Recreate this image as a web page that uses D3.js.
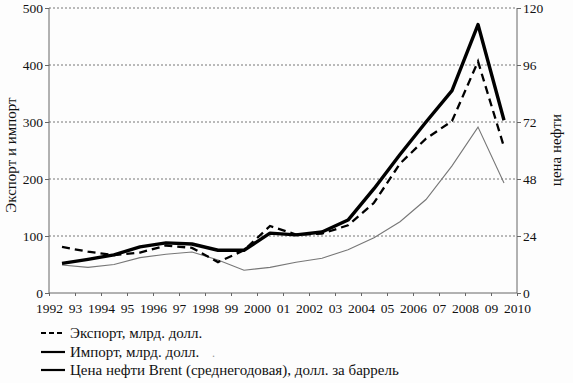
<!DOCTYPE html>
<html><head><meta charset="utf-8">
<script src="https://cdn.jsdelivr.net/npm/d3@7"></script>
<style>
html,body{margin:0;padding:0;background:#fdfdfd;}
svg{display:block;}
</style></head>
<body>
<svg id="c" width="573" height="383"></svg>
<script>
const years = [1992,1993,1994,1995,1996,1997,1998,1999,2000,2001,2002,2003,2004,2005,2006,2007,2008,2009];
// thick solid line (left axis, bn $)
const thickSeries = [52,59,67,81,88,86,75,75,105,102,107,128,183,243,300,355,471,303];
// thin grey line (left axis, bn $)
const thinSeries = [49,45,50,62,68,72,58,40,45,54,61,76,97,125,164,223,291,193];
// dashed line (right axis, $ per barrel)
const dashedSeries = [19.4,17.4,16.0,17.0,20.0,19.0,13.0,18.0,28.2,24.6,25.0,28.5,38.0,54.5,65.0,72.4,97.5,61.5];
const leftTicks = [0,100,200,300,400,500];
const rightTicks = [0,24,48,72,96,120];
const xTickYears = d3.range(1992,2011);
const xTickLabels = ["1992","93","1994","95","1996","97","1998","99","2000","01","2002","03","2004","05","2006","07","2008","09","2010"];
const leftTitle = "Экспорт и импорт";
const rightTitle = "цена нефти";
const legendLabels = ["Экспорт, млрд. долл.","Импорт, млрд. долл.","Цена нефти Brent (среднегодовая), долл. за баррель"];

const FONT = "'Liberation Serif'";
const svg = d3.select("#c");
const x = d3.scaleLinear().domain([1992,2010]).range([49,517]);
const yL = d3.scaleLinear().domain([0,500]).range([293,8]);
const yR = d3.scaleLinear().domain([0,120]).range([293,8]);
const axisCol = "#666";

// gridlines
svg.append("g").selectAll("line").data(leftTicks.filter(d=>d>0)).join("line")
  .attr("x1",49).attr("x2",517).attr("y1",d=>yL(d)).attr("y2",d=>yL(d))
  .attr("stroke","#777").attr("stroke-width",1).attr("stroke-dasharray","2,2");

// axes
const gL = svg.append("g").attr("transform","translate(49,0)")
  .call(d3.axisLeft(yL).tickValues(leftTicks).tickSize(4).tickPadding(2));
const gR = svg.append("g").attr("transform","translate(517,0)")
  .call(d3.axisRight(yR).tickValues(rightTicks).tickSize(4).tickPadding(2));
const gX = svg.append("g").attr("transform","translate(0,293)")
  .call(d3.axisBottom(x).tickValues(xTickYears).tickFormat((d,i)=>xTickLabels[i]).tickSize(3).tickPadding(7));
[gL,gR,gX].forEach(g=>{
  g.attr("font-family",null).attr("font-size",null);
  g.selectAll("path,line").attr("stroke",axisCol).attr("stroke-width",1);
  g.selectAll("text").attr("fill","#111").style("font-family",FONT).style("font-size","13.5px");
});
gL.select(".domain").attr("d","M0,293V8");
gR.select(".domain").attr("d","M0,293V8");
gX.select(".domain").attr("d","M49,0H517");

// lines
const cx = d => x(d+0.5);
const lineL = d3.line().x((d,i)=>cx(years[i])).y(d=>yL(d));
const lineR = d3.line().x((d,i)=>cx(years[i])).y(d=>yR(d));
svg.append("path").datum(thinSeries).attr("d",lineL).attr("fill","none")
  .attr("stroke","#777").attr("stroke-width",1.1);
svg.append("path").datum(dashedSeries).attr("d",lineR).attr("fill","none")
  .attr("stroke","#000").attr("stroke-width",2.3).attr("stroke-dasharray","8,5");
svg.append("path").datum(thickSeries).attr("d",lineL).attr("fill","none")
  .attr("stroke","#000").attr("stroke-width",3.4).attr("stroke-linejoin","round");

// axis titles
svg.append("text").attr("transform","translate(16,155) rotate(-90)")
  .attr("text-anchor","middle").style("font-family",FONT).style("font-size","15px").attr("fill","#111").text(leftTitle);
svg.append("text").attr("transform","translate(561,150) rotate(-90)")
  .attr("text-anchor","middle").style("font-family",FONT).style("font-size","15px").attr("fill","#111").text(rightTitle);

// legend
const lg = svg.append("g");
const ly = [333,352,370];
const lstyles = [{w:2.2,da:"5,3"},{w:2.2,da:null},{w:2.2,da:null}];
legendLabels.forEach((t,i)=>{
  lg.append("line").attr("x1",41).attr("x2",65).attr("y1",ly[i]).attr("y2",ly[i])
    .attr("stroke","#000").attr("stroke-width",lstyles[i].w)
    .attr("stroke-dasharray",lstyles[i].da);
  lg.append("text").attr("x",70).attr("y",ly[i]+5).style("font-family",FONT).style("font-size","15px").attr("fill","#111").text(t);
});
lg.append("text").attr("x",212).attr("y",357).style("font-family",FONT).style("font-size","12px").attr("fill","#999").text(".");
</script>
</body></html>
